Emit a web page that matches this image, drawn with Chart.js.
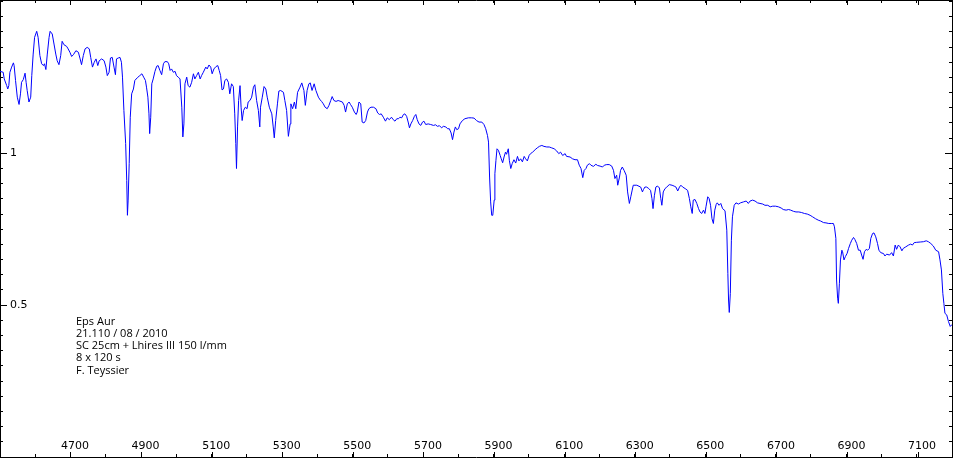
<!DOCTYPE html>
<html lang="fr">
<head>
<meta charset="UTF-8">
<title>Eps Aur</title>
<script src="https://cdn.jsdelivr.net/npm/chart.js"></script>
<style>
    body { margin: 0; background: #fff; }
    #wrap { width: 953px; height: 458px; }
</style>
</head>
<body>
<div id="wrap"><canvas id="spec" width="953" height="458"></canvas></div>
<script>
// wavelength (A) and relative flux
const wavelengths = [
    4499, 4508, 4511, 4518, 4521, 4524, 4527, 4532, 4537, 4539, 4543, 4548, 4553, 4557, 4560, 4565, 4570, 4573, 4576, 4581,
    4586, 4589, 4593, 4597, 4603, 4607, 4612, 4617, 4622, 4625, 4629, 4633, 4638, 4641, 4647, 4652, 4657, 4661, 4666, 4671,
    4675, 4680, 4688, 4692, 4697, 4702, 4707, 4714, 4721, 4726, 4730, 4735, 4740, 4746, 4752, 4756, 4761, 4766, 4771, 4776,
    4780, 4787, 4794, 4799, 4803, 4808, 4812, 4817, 4822, 4826, 4829, 4834, 4839, 4843, 4846, 4850, 4855, 4858, 4860, 4862,
    4865, 4868, 4872, 4877, 4881, 4888, 4895, 4901, 4906, 4911, 4914, 4918, 4921, 4923, 4926, 4929, 4933, 4938, 4943, 4947,
    4952, 4957, 4962, 4966, 4973, 4977, 4981, 4985, 4990, 4995, 4999, 5004, 5009, 5014, 5017, 5020, 5023, 5028, 5032, 5037,
    5042, 5047, 5051, 5056, 5061, 5066, 5070, 5075, 5082, 5086, 5091, 5096, 5100, 5105, 5111, 5116, 5120, 5124, 5128, 5132,
    5136, 5141, 5146, 5150, 5155, 5160, 5164, 5167, 5169, 5172, 5175, 5179, 5182, 5185, 5189, 5194, 5199, 5202, 5207, 5212,
    5217, 5221, 5226, 5231, 5235, 5237, 5242, 5247, 5252, 5256, 5262, 5269, 5273, 5276, 5280, 5285, 5289, 5294, 5302, 5306,
    5311, 5316, 5321, 5323, 5328, 5333, 5337, 5342, 5349, 5354, 5360, 5364, 5369, 5374, 5378, 5383, 5389, 5394, 5401, 5406,
    5410, 5415, 5420, 5426, 5431, 5436, 5440, 5445, 5451, 5457, 5462, 5469, 5474, 5478, 5483, 5488, 5492, 5497, 5503, 5508,
    5511, 5516, 5521, 5525, 5530, 5535, 5540, 5544, 5550, 5557, 5564, 5569, 5574, 5579, 5585, 5591, 5596, 5602, 5608, 5613,
    5618, 5623, 5628, 5632, 5637, 5642, 5646, 5651, 5656, 5659, 5663, 5668, 5673, 5677, 5681, 5686, 5691, 5696, 5700, 5705,
    5712, 5719, 5727, 5733, 5738, 5744, 5750, 5755, 5762, 5767, 5772, 5777, 5781, 5785, 5789, 5793, 5798, 5802, 5809, 5816,
    5826, 5835, 5842, 5849, 5856, 5864, 5870, 5875, 5880, 5883, 5886, 5889, 5892, 5895, 5899, 5901, 5904, 5907, 5911, 5916,
    5919, 5923, 5927, 5931, 5934, 5939, 5942, 5946, 5950, 5955, 5960, 5965, 5969, 5974, 5979, 5984, 5988, 5993, 5998, 6002,
    6008, 6015, 6021, 6027, 6034, 6040, 6048, 6055, 6062, 6069, 6076, 6082, 6087, 6093, 6100, 6104, 6114, 6121, 6128, 6135,
    6140, 6145, 6150, 6154, 6159, 6163, 6169, 6173, 6180, 6187, 6192, 6199, 6206, 6211, 6218, 6225, 6232, 6237, 6241, 6246,
    6249, 6254, 6257, 6262, 6267, 6273, 6277, 6282, 6286, 6290, 6293, 6303, 6314, 6319, 6322, 6326, 6331, 6337, 6342, 6346,
    6349, 6353, 6357, 6361, 6367, 6371, 6374, 6378, 6383, 6388, 6395, 6403, 6409, 6414, 6419, 6424, 6428, 6433, 6440, 6447,
    6452, 6456, 6460, 6463, 6468, 6473, 6478, 6482, 6487, 6492, 6496, 6499, 6504, 6508, 6512, 6516, 6520, 6524, 6528, 6531,
    6536, 6541, 6546, 6553, 6558, 6561, 6563, 6565, 6568, 6571, 6574, 6579, 6584, 6591, 6597, 6605, 6613, 6619, 6624, 6631,
    6638, 6645, 6652, 6660, 6666, 6674, 6681, 6688, 6696, 6704, 6712, 6718, 6726, 6733, 6739, 6747, 6754, 6762, 6770, 6778,
    6786, 6794, 6801, 6809, 6817, 6824, 6832, 6839, 6847, 6854, 6860, 6863, 6867, 6869, 6872, 6874, 6877, 6880, 6884, 6886,
    6890, 6894, 6899, 6903, 6908, 6912, 6917, 6921, 6926, 6931, 6936, 6940, 6944, 6948, 6953, 6957, 6962, 6966, 6971, 6975,
    6980, 6985, 6989, 6994, 7002, 7006, 7011, 7019, 7025, 7030, 7035, 7039, 7044, 7049, 7054, 7058, 7065, 7073, 7079, 7084,
    7089, 7096, 7106, 7115, 7123, 7129, 7136, 7143, 7150, 7158, 7162, 7166, 7170, 7173, 7176, 7181, 7186, 7191, 7195, 7199
];
const flux = [
    1.270, 1.267, 1.245, 1.223, 1.212, 1.223, 1.267, 1.284, 1.298, 1.289, 1.240, 1.185, 1.161, 1.196, 1.234, 1.243, 1.264, 1.234, 1.207, 1.169,
    1.185, 1.256, 1.327, 1.382, 1.402, 1.382, 1.322, 1.295, 1.289, 1.295, 1.276, 1.327, 1.382, 1.402, 1.393, 1.360, 1.327, 1.305, 1.292, 1.322,
    1.369, 1.358, 1.352, 1.344, 1.333, 1.319, 1.325, 1.338, 1.333, 1.311, 1.292, 1.322, 1.344, 1.349, 1.344, 1.316, 1.284, 1.300, 1.311, 1.289,
    1.305, 1.311, 1.305, 1.284, 1.256, 1.267, 1.314, 1.316, 1.284, 1.259, 1.311, 1.314, 1.316, 1.300, 1.251, 1.141, 1.032, 0.911, 0.796, 0.846,
    0.966, 1.119, 1.196, 1.212, 1.240, 1.249, 1.256, 1.262, 1.251, 1.240, 1.218, 1.185, 1.130, 1.065, 1.119, 1.229, 1.245, 1.270, 1.287, 1.289,
    1.273, 1.259, 1.295, 1.302, 1.302, 1.295, 1.273, 1.278, 1.267, 1.270, 1.256, 1.251, 1.245, 1.152, 1.054, 1.097, 1.229, 1.251, 1.223, 1.218,
    1.234, 1.262, 1.245, 1.256, 1.267, 1.245, 1.256, 1.267, 1.284, 1.278, 1.291, 1.284, 1.262, 1.278, 1.286, 1.289, 1.273, 1.256, 1.209, 1.212,
    1.240, 1.245, 1.234, 1.196, 1.229, 1.220, 1.130, 1.032, 0.950, 1.087, 1.174, 1.223, 1.152, 1.108, 1.141, 1.152, 1.147, 1.169, 1.174, 1.185,
    1.218, 1.226, 1.174, 1.141, 1.087, 1.152, 1.185, 1.220, 1.212, 1.185, 1.152, 1.130, 1.087, 1.051, 1.108, 1.163, 1.205, 1.207, 1.201, 1.174,
    1.141, 1.056, 1.097, 1.163, 1.147, 1.169, 1.147, 1.201, 1.218, 1.232, 1.207, 1.158, 1.207, 1.229, 1.232, 1.207, 1.229, 1.207, 1.185, 1.176,
    1.171, 1.163, 1.152, 1.147, 1.158, 1.174, 1.187, 1.174, 1.171, 1.174, 1.172, 1.169, 1.158, 1.136, 1.163, 1.169, 1.161, 1.152, 1.136, 1.128,
    1.136, 1.169, 1.163, 1.103, 1.100, 1.108, 1.136, 1.147, 1.152, 1.152, 1.147, 1.133, 1.128, 1.130, 1.119, 1.106, 1.117, 1.111, 1.119, 1.111,
    1.106, 1.114, 1.114, 1.119, 1.117, 1.128, 1.130, 1.122, 1.100, 1.084, 1.097, 1.108, 1.122, 1.128, 1.111, 1.097, 1.092, 1.103, 1.106, 1.095,
    1.097, 1.095, 1.092, 1.094, 1.089, 1.091, 1.084, 1.089, 1.087, 1.081, 1.081, 1.067, 1.045, 1.070, 1.087, 1.078, 1.081, 1.097, 1.108, 1.114,
    1.117, 1.117, 1.116, 1.108, 1.103, 1.103, 1.095, 1.081, 1.059, 1.037, 0.922, 0.840, 0.796, 0.796, 0.846, 0.933, 0.977, 1.015, 1.010, 0.993,
    0.982, 0.969, 0.988, 1.004, 0.997, 1.015, 0.977, 0.950, 0.966, 0.979, 0.968, 0.990, 0.975, 0.982, 0.972, 0.990, 0.982, 0.975, 0.993, 0.999,
    1.004, 1.012, 1.018, 1.023, 1.026, 1.023, 1.021, 1.021, 1.018, 1.015, 1.008, 0.999, 1.004, 0.993, 0.999, 0.990, 0.988, 0.982, 0.979, 0.979,
    0.961, 0.950, 0.920, 0.944, 0.950, 0.961, 0.966, 0.961, 0.957, 0.964, 0.960, 0.958, 0.955, 0.961, 0.963, 0.963, 0.958, 0.944, 0.917, 0.928,
    0.895, 0.922, 0.944, 0.955, 0.944, 0.928, 0.873, 0.835, 0.857, 0.879, 0.895, 0.895, 0.889, 0.873, 0.881, 0.889, 0.889, 0.884, 0.878, 0.851,
    0.818, 0.862, 0.889, 0.892, 0.887, 0.851, 0.829, 0.873, 0.884, 0.889, 0.897, 0.895, 0.892, 0.889, 0.876, 0.889, 0.895, 0.889, 0.884, 0.878,
    0.851, 0.824, 0.802, 0.846, 0.848, 0.835, 0.818, 0.807, 0.802, 0.813, 0.802, 0.824, 0.857, 0.851, 0.829, 0.785, 0.769, 0.813, 0.832, 0.837,
    0.829, 0.835, 0.818, 0.811, 0.747, 0.605, 0.517, 0.476, 0.539, 0.714, 0.791, 0.829, 0.837, 0.833, 0.837, 0.840, 0.843, 0.835, 0.843, 0.846,
    0.843, 0.837, 0.835, 0.833, 0.829, 0.829, 0.824, 0.826, 0.826, 0.824, 0.820, 0.815, 0.813, 0.815, 0.813, 0.809, 0.807, 0.807, 0.805, 0.802,
    0.800, 0.796, 0.791, 0.785, 0.780, 0.777, 0.772, 0.771, 0.769, 0.769, 0.769, 0.758, 0.720, 0.583, 0.523, 0.506, 0.572, 0.649, 0.681, 0.676,
    0.649, 0.660, 0.671, 0.687, 0.703, 0.714, 0.723, 0.716, 0.703, 0.681, 0.681, 0.665, 0.651, 0.676, 0.684, 0.681, 0.687, 0.720, 0.736, 0.738,
    0.725, 0.703, 0.681, 0.673, 0.670, 0.662, 0.668, 0.665, 0.673, 0.662, 0.698, 0.684, 0.698, 0.692, 0.679, 0.687, 0.692, 0.698, 0.701, 0.698,
    0.706, 0.707, 0.708, 0.709, 0.712, 0.709, 0.703, 0.695, 0.681, 0.676, 0.649, 0.616, 0.539, 0.506, 0.473, 0.468, 0.446, 0.430, 0.435, 0.432
];
const xTickLabels = [4700, 4900, 5100, 5300, 5500, 5700, 5900, 6100, 6300, 6500, 6700, 6900, 7100];
const yTickLabels = [0.5, 1];
const noteLines = ['Eps Aur', '21.110 / 08 / 2010', 'SC 25cm + Lhires III 150 l/mm', '8 x 120 s', 'F. Teyssier'];

const X_MIN = 4499, X_MAX = 7196;
const Y_MIN = 0, Y_MAX = 1.505;

Chart.defaults.font.family = '"DejaVu Sans", Verdana, sans-serif';
Chart.defaults.font.size = 11;
Chart.defaults.color = '#000';

// axes take no room: ticks point inward, labels sit inside the frame
function squash(scale) {
    if (scale.isHorizontal()) scale.height = 0; else scale.width = 0;
    scale.paddingLeft = scale.paddingRight = scale.paddingTop = scale.paddingBottom = 0;
}

function makeAxis(position, horizontal, opts) {
    const cfg = {
        type: 'linear',
        position: position,
        min: horizontal ? X_MIN : Y_MIN,
        max: horizontal ? X_MAX : Y_MAX,
        grid: { drawOnChartArea: false, drawTicks: true, tickLength: -opts.len, color: '#000', lineWidth: 1 },
        border: { display: !!opts.border, color: '#000', width: 1 },
        ticks: { display: false },
        afterFit: squash
    };
    if (opts.values) {
        cfg.afterBuildTicks = s => { s.ticks = opts.values.map(v => ({ value: v })); };
    } else {
        cfg.ticks.stepSize = opts.step;
        cfg.ticks.includeBounds = false;
    }
    if (opts.labels) {
        cfg.ticks = Object.assign({ display: true, mirror: true, color: '#000', callback: v => String(v), autoSkip: false, maxRotation: 0 }, opts.labels);
    }
    return cfg;
}

const notePlugin = {
    id: 'note',
    afterDraw(chart) {
        const ctx = chart.ctx;
        ctx.save();
        ctx.font = '11px "Open Sans", sans-serif';
        ctx.fillStyle = '#000';
        ctx.textBaseline = 'middle';
        noteLines.forEach((t, i) => ctx.fillText(t, 76, 322 + i * 12.1));
        ctx.restore();
    }
};

new Chart(document.getElementById('spec'), {
    type: 'line',
    data: {
        datasets: [{
            data: wavelengths.map((w, i) => ({ x: w, y: flux[i] })),
            xAxisID: 'x',
            yAxisID: 'y',
            borderColor: '#0000ff',
            borderWidth: 1,
            pointRadius: 0,
            tension: 0,
            fill: false
        }]
    },
    options: {
        responsive: false,
        animation: false,
        devicePixelRatio: 1,
        layout: { padding: { left: 0, top: 0, right: 1, bottom: 1 } },
        plugins: { legend: { display: false }, tooltip: { enabled: false } },
        scales: {
            x: makeAxis('bottom', true, { len: 5, values: xTickLabels, border: true, labels: { padding: 4.4, labelOffset: 4 } }),
            xMinor: makeAxis('bottom', true, { len: 3, step: 100 }),
            xTop: makeAxis('top', true, { len: 5, values: xTickLabels, border: true }),
            xTopMinor: makeAxis('top', true, { len: 3, step: 100 }),
            y: makeAxis('left', false, { len: 7, values: yTickLabels, border: true, labels: { padding: 10 } }),
            yMinor: makeAxis('left', false, { len: 3, step: 0.05 }),
            yRight: makeAxis('right', false, { len: 7, values: yTickLabels, border: true }),
            yRightMinor: makeAxis('right', false, { len: 3, step: 0.05 })
        }
    },
    plugins: [notePlugin]
});
</script>
</body>
</html>
